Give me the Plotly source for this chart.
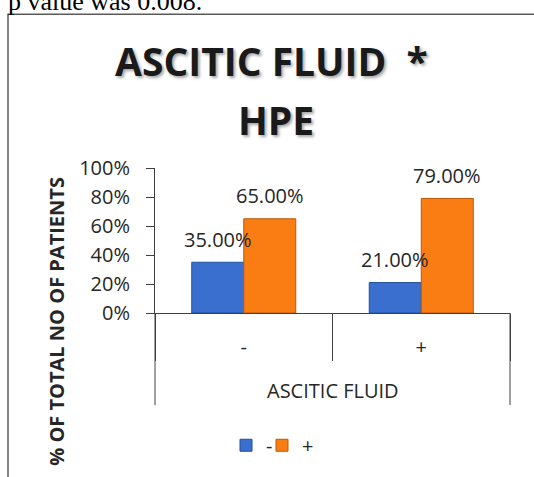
import plotly.graph_objects as go

# ---- data ----
axis_label = "ASCITIC FLUID"
categories = ["-", "+"]
series_names = ["-", "+"]
neg_values = [0.35, 0.21]
pos_values = [0.65, 0.79]
value_labels_neg = ["35.00%", "21.00%"]
value_labels_pos = ["65.00%", "79.00%"]
y_tick_vals = [0, 0.2, 0.4, 0.6, 0.8, 1.0]
y_tick_text = ["0%", "20%", "40%", "60%", "80%", "100%"]

# ---- layout geometry (pixels) ----
W, H = 534, 477
L, R, T, B = 155, 510, 168, 316


def px_x(px):
    return (px - L) / (R - L)


def px_y(py):
    return (B - py) / (B - T)


FONT = "Open Sans"
TXT = "#262626"
LINE = "#404040"
colors = ["#3a6fd0", "#fa7d14"]
edge = ["#22519c", "#b95a08"]
legend_ids = ["legend", "legend2"]

fig = go.Figure()
for name, vals, c, e, lg in zip(series_names, [neg_values, pos_values], colors, edge, legend_ids):
    fig.add_trace(go.Bar(
        name=name, x=categories, y=vals, legend=lg,
        marker=dict(color=c, line=dict(color=e, width=1)),
    ))

annotations = []
# value labels above bars
bar_half = (R - L) / len(categories) * (1 - 0.414) / 4
for sign, vals, labels in [(-1, neg_values, value_labels_neg), (1, pos_values, value_labels_pos)]:
    for i, (v, lab) in enumerate(zip(vals, labels)):
        annotations.append(dict(
            x=i, y=v, xref="x", yref="y", text=lab, showarrow=False,
            xshift=sign * bar_half, yshift=23, yanchor="middle",
            font=dict(family=FONT, size=20, color=TXT),
        ))

# title lines
title_font = dict(family=FONT, size=39, color="#1a1a1a", weight="bold",
                  shadow="2px 2px 3px rgba(0,0,0,0.35)")
annotations.append(dict(
    x=px_x(271), y=px_y(58), xref="paper", yref="paper", text="ASCITIC FLUID&nbsp;&nbsp;*",
    showarrow=False, xanchor="center", yanchor="middle", font=title_font,
))
annotations.append(dict(
    x=px_x(276), y=px_y(118), xref="paper", yref="paper", text="HPE",
    showarrow=False, xanchor="center", yanchor="middle", font=title_font,
))
# y axis title
annotations.append(dict(
    x=px_x(57), y=px_y(324), xref="paper", yref="paper",
    text="% OF TOTAL NO OF PATIENTS", textangle=-90, showarrow=False,
    xanchor="center", yanchor="middle",
    font=dict(family=FONT, size=20, color=TXT, weight="bold"),
))
# x axis group label
annotations.append(dict(
    x=0.5, y=px_y(395), xref="paper", yref="paper", text=axis_label,
    showarrow=False, xanchor="center", yanchor="middle",
    font=dict(family=FONT, size=20, color=TXT),
))
# clipped document text above the chart
annotations.append(dict(
    x=px_x(6), y=px_y(-2), xref="paper", yref="paper",
    text="p value was 0.008.", showarrow=False, xanchor="left", yanchor="middle",
    font=dict(family="Liberation Serif", size=26, color="#000000"),
))

shapes = [dict(type="rect", xref="paper", yref="paper",
               x0=px_x(8), y0=px_y(11), x1=px_x(600), y1=px_y(600),
               line=dict(color="#5a5a5a", width=1.5), layer="below")]
# outer dividers of the category axis
for xp in (0, 1):
    shapes.append(dict(type="line", xref="paper", yref="paper",
                       x0=xp, x1=xp, y0=0, y1=px_y(410),
                       line=dict(color=LINE, width=1)))

leg_common = dict(orientation="h", xanchor="left", yanchor="middle",
                  font=dict(family=FONT, size=20, color=TXT), itemwidth=30,
                  bgcolor="rgba(0,0,0,0)")
fig.update_layout(
    width=W, height=H,
    margin=dict(l=L, r=W - R, t=T, b=H - B, pad=0),
    paper_bgcolor="white", plot_bgcolor="white",
    barmode="group", bargap=0.414, bargroupgap=0,
    showlegend=True,
    legend=dict(x=px_x(226), y=px_y(451), **leg_common),
    legend2=dict(x=px_x(262), y=px_y(451), **leg_common),
    annotations=annotations,
    shapes=shapes,
    font=dict(family=FONT, color=TXT),
)
fig.update_yaxes(
    range=[0, 1], tickvals=y_tick_vals, ticktext=y_tick_text,
    showgrid=False, zeroline=False, showline=True, linecolor=LINE, linewidth=1,
    ticks="outside", ticklen=8, tickcolor=LINE, ticklabelstandoff=12,
    tickfont=dict(family=FONT, size=20, color=TXT),
)
fig.update_xaxes(
    type="category", categoryorder="array", categoryarray=categories,
    showgrid=False, showline=True, linecolor=LINE, linewidth=1,
    ticks="outside", tickson="boundaries", ticklen=47, tickcolor=LINE,
    ticklabelstandoff=16,
    tickfont=dict(family=FONT, size=20, color=TXT),
)

fig.write_html("out.html", config={"displayModeBar": False},
               post_script="document.body.style.margin='0';")
